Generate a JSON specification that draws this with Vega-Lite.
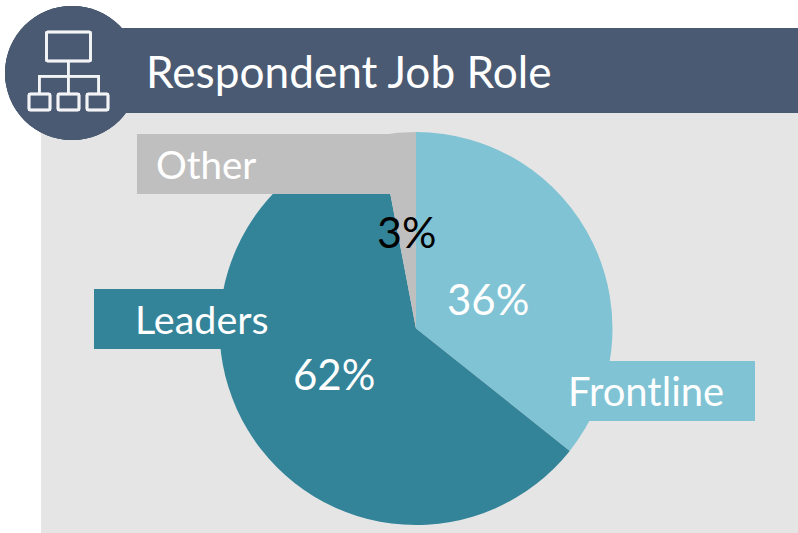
{
"$schema":"https://vega.github.io/schema/vega-lite/v6.json",
"width":798,"height":533,"autosize":{"type":"fit","contains":"padding"},"padding":0,"background":"white",
"config":{"view":{"stroke":null},"font":"Lato"},
"data":{"values":[
{"role":"Frontline","share":35.7,"rank":1,"label":"36%"},
{"role":"Leaders","share":61.3,"rank":2,"label":"62%"},
{"role":"Other","share":3.0,"rank":3,"label":"3%"}
]},
"layer":[
{"mark":{"type":"rect","x":41,"x2":798,"y":113,"y2":533,"fill":"#e5e5e5"},"encoding":{}},
{"mark":{"type":"rect","x":70,"x2":798,"y":28,"y2":113,"fill":"#4a5a72"},"encoding":{}},
{"mark":{"type":"arc","x":72,"y":73,"outerRadius":67,"innerRadius":0,"theta":0,"theta2":6.2832,"fill":"#4a5a72"},"encoding":{}},
{"mark":{"type":"arc","x":416,"y":328.5,"outerRadius":196.5,"innerRadius":0},
 "encoding":{"theta":{"field":"share","type":"quantitative","stack":true},"order":{"field":"rank"},
 "color":{"field":"role","type":"nominal","legend":null,"scale":{"domain":["Frontline","Leaders","Other"],"range":["#80c3d4","#338399","#bfbfbf"]}}}},
{"transform":[{"filter":"datum.role==='Other'"}],"mark":{"type":"rect","x":137,"x2":416,"y":134,"y2":194},"encoding":{"color":{"field":"role","type":"nominal","legend":null}}},
{"transform":[{"filter":"datum.role==='Leaders'"}],"mark":{"type":"rect","x":94,"x2":270,"y":289,"y2":349},"encoding":{"color":{"field":"role","type":"nominal","legend":null}}},
{"transform":[{"filter":"datum.role==='Frontline'"}],"mark":{"type":"rect","x":560,"x2":755,"y":361,"y2":421},"encoding":{"color":{"field":"role","type":"nominal","legend":null}}},
{"transform":[{"filter":"datum.role==='Other'"}],"mark":{"type":"text","x":156,"y":179,"align":"left","baseline":"alphabetic","fontSize":38.5,"fill":"white"},"encoding":{"text":{"field":"role"}}},
{"transform":[{"filter":"datum.role==='Leaders'"}],"mark":{"type":"text","x":135,"y":334,"align":"left","baseline":"alphabetic","fontSize":39.5,"fill":"white"},"encoding":{"text":{"field":"role"}}},
{"transform":[{"filter":"datum.role==='Frontline'"}],"mark":{"type":"text","x":568,"y":406,"align":"left","baseline":"alphabetic","fontSize":40,"fill":"white"},"encoding":{"text":{"field":"role"}}},
{"transform":[{"filter":"datum.role==='Other'"}],"mark":{"type":"text","x":377,"y":248,"align":"left","baseline":"alphabetic","fontSize":43,"fill":"black"},"encoding":{"text":{"field":"label"}}},
{"transform":[{"filter":"datum.role==='Leaders'"}],"mark":{"type":"text","x":293,"y":390,"align":"left","baseline":"alphabetic","fontSize":42,"fill":"white"},"encoding":{"text":{"field":"label"}}},
{"transform":[{"filter":"datum.role==='Frontline'"}],"mark":{"type":"text","x":447,"y":315,"align":"left","baseline":"alphabetic","fontSize":42,"fill":"white"},"encoding":{"text":{"field":"label"}}},
{"data":{"values":[{"title":"Respondent Job Role"}]},"mark":{"type":"text","x":146,"y":88,"align":"left","baseline":"alphabetic","fontSize":44.2,"fill":"white"},"encoding":{"text":{"field":"title"}}},
{"mark":{"type":"rect","x":46.5,"x2":90.5,"y":32,"y2":61,"fill":null,"stroke":"#f2f4f6","strokeWidth":2.5,"cornerRadius":1},"encoding":{}},
{"mark":{"type":"rect","x":29,"x2":50,"y":94,"y2":110,"fill":null,"stroke":"#f2f4f6","strokeWidth":2.5,"cornerRadius":1},"encoding":{}},
{"mark":{"type":"rect","x":58,"x2":79,"y":94,"y2":110,"fill":null,"stroke":"#f2f4f6","strokeWidth":2.5,"cornerRadius":1},"encoding":{}},
{"mark":{"type":"rect","x":87,"x2":108,"y":94,"y2":110,"fill":null,"stroke":"#f2f4f6","strokeWidth":2.5,"cornerRadius":1},"encoding":{}},
{"mark":{"type":"rect","x":67,"x2":69.5,"y":61,"y2":94,"fill":"#f2f4f6"},"encoding":{}},
{"mark":{"type":"rect","x":38,"x2":100,"y":75,"y2":77.5,"fill":"#f2f4f6"},"encoding":{}},
{"mark":{"type":"rect","x":38,"x2":40.5,"y":75,"y2":94,"fill":"#f2f4f6"},"encoding":{}},
{"mark":{"type":"rect","x":97.5,"x2":100,"y":75,"y2":94,"fill":"#f2f4f6"},"encoding":{}}
]
}
